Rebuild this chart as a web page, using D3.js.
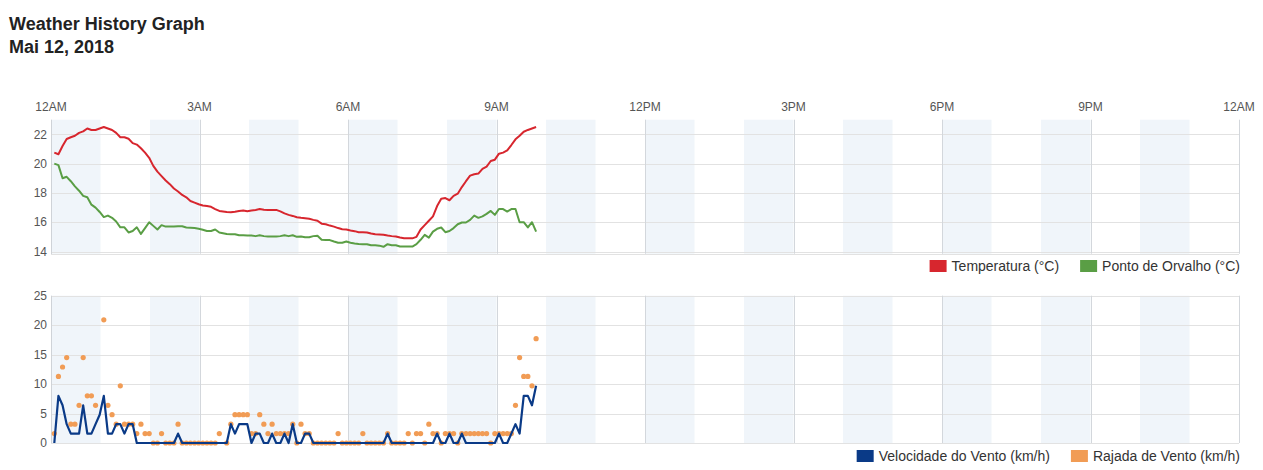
<!DOCTYPE html>
<html>
<head>
<meta charset="utf-8">
<script src="https://cdn.jsdelivr.net/npm/d3@7"></script>
<style>
  html, body { margin: 0; padding: 0; background: #fff; }
  svg { display: block; font-family: "Liberation Sans", Arial, sans-serif; }
</style>
</head>
<body>
<svg id="chart" width="1263" height="470"></svg>
<script>
// ---- data ----
const title = "Weather History Graph";
const subtitle = "Mai 12, 2018";
const hourLabels = ["12AM","3AM","6AM","9AM","12PM","3PM","6PM","9PM","12AM"];
const tempTicks = [14, 16, 18, 20, 22];
const windTicks = [0, 5, 10, 15, 20, 25];
const seriesNames = ["Temperatura (°C)", "Ponto de Orvalho (°C)", "Velocidade do Vento (km/h)", "Rajada de Vento (km/h)"];

// observation times, minutes after midnight
const times = [4,9,14,19,24,29,34,39,44,49,54,59,64,69,74,79,84,89,94,99,104,109,114,119,124,129,134,139,144,149,154,159,164,169,174,179,184,189,194,199,204,
 213,218,223,228,233,238,243,248,253,258,263,268,273,278,283,288,293,298,303,308,313,318,323,328,333,338,343,348,353,358,363,368,373,378,383,388,393,398,403,408,413,418,423,428,433,438,443,448,453,458,463,468,473,478,483,488,493,498,503,508,513,518,523,528,533,538,543,548,553,558,563,568,573,578,583,588];

const temperature = [20.75,20.64,21.2,21.68,21.8,21.9,22.1,22.2,22.4,22.3,22.3,22.4,22.5,22.4,22.3,22.1,21.8,21.8,21.7,21.4,21.3,21.05,20.75,20.4,19.85,19.45,19.15,18.85,18.6,18.3,18.1,17.86,17.7,17.45,17.34,17.23,17.14,17.1,17.05,16.9,16.77,
 16.7,16.68,16.72,16.77,16.8,16.75,16.8,16.84,16.9,16.85,16.84,16.84,16.84,16.74,16.6,16.5,16.43,16.34,16.3,16.27,16.23,16.16,16.1,15.9,15.86,15.77,15.7,15.6,15.52,15.5,15.43,15.39,15.32,15.32,15.3,15.23,15.18,15.16,15.14,15.09,15.05,15.02,14.95,14.9,14.9,14.9,15.0,15.5,15.8,16.1,16.4,17.1,17.6,17.65,17.5,17.8,17.95,18.4,18.8,19.18,19.27,19.32,19.64,19.8,20.18,20.27,20.68,20.75,20.9,21.27,21.66,21.9,22.18,22.3,22.4,22.5];

const dewPoint = [20.0,19.9,19.0,19.1,18.8,18.45,18.15,17.8,17.7,17.2,17.0,16.7,16.35,16.45,16.3,16.05,15.65,15.65,15.3,15.4,15.65,15.2,15.6,16.0,15.75,15.5,15.8,15.7,15.7,15.7,15.72,15.72,15.64,15.62,15.6,15.55,15.48,15.4,15.4,15.5,15.3,
 15.2,15.18,15.18,15.11,15.11,15.1,15.09,15.05,15.11,15.05,15.02,15.02,15.02,15.05,15.11,15.05,15.11,15.0,15.03,14.98,14.97,15.05,15.07,14.8,14.78,14.78,14.68,14.6,14.6,14.68,14.6,14.55,14.52,14.5,14.5,14.43,14.43,14.4,14.32,14.5,14.43,14.43,14.34,14.34,14.34,14.34,14.5,14.8,15.14,14.95,15.36,15.55,15.64,15.32,15.4,15.6,15.86,15.98,15.98,16.16,16.45,16.3,16.4,16.57,16.77,16.5,16.9,16.9,16.73,16.9,16.9,16.0,16.0,15.64,16.0,15.36];

const windSpeed = [0,8.0,6.4,3.2,1.6,1.6,1.6,6.4,1.6,1.6,3.2,4.8,8.0,1.6,1.6,3.2,3.2,1.6,3.2,3.2,0,0,0,0,0,0,0,0,0,0,1.6,0,0,0,0,0,0,0,0,0,0,
 0,3.2,1.6,3.2,3.2,3.2,0,1.6,1.6,0,0,1.6,0,0,1.6,0,3.2,0,0,1.6,1.6,0,0,0,0,0,0,0,0,0,0,0,0,0,0,0,0,0,0,1.6,0,0,0,0,0,0,0,0,0,0,0,1.6,0,0,1.6,0,0,1.6,0,0,0,0,0,0,0,0,1.6,0,0,1.6,3.2,1.6,8.0,8.0,6.4,9.7];

const windGust = [1.6,11.3,12.9,14.5,3.2,3.2,6.4,14.5,8.0,8.0,6.4,null,20.9,6.4,4.8,3.2,9.7,3.2,3.2,3.2,1.6,3.2,1.6,1.6,0,0,1.6,0,0,0,3.2,0,0,0,0,0,0,0,0,0,1.6,
 0,3.2,4.8,4.8,4.8,4.8,1.6,1.6,4.8,3.2,1.6,3.2,1.6,1.6,1.6,1.6,3.2,0,3.2,1.6,1.6,0,0,0,0,0,0,1.6,0,0,0,0,0,1.6,0,0,0,0,0,1.6,0,0,0,0,1.6,0,1.6,1.6,0,3.2,1.6,1.6,0,1.6,1.6,1.6,0,1.6,1.6,1.6,1.6,1.6,1.6,1.6,0,1.6,1.6,1.6,1.6,1.6,6.4,14.5,11.3,11.3,9.7,17.7];

// ---- drawing ----
const colors = { temp: "#d7262e", dew: "#5a9e45", wind: "#0a3a87", gust: "#f19c55",
  band: "#f0f5fa", grid: "#e2e2e2", vgrid: "#d3d7dc", axis: "#cfd3d8", text: "#555" };

const svg = d3.select("#chart");
const x = d3.scaleLinear().domain([0, 1440]).range([51, 1239]);
const yT = d3.scaleLinear().domain([13.85, 23]).range([253.7, 119.7]);
const yW = d3.scaleLinear().domain([0, 25]).range([443, 295.7]);

svg.append("text").attr("x", 9).attr("y", 30).attr("font-size", 18).attr("font-weight", "bold")
  .attr("fill", "#222").text(title);
svg.append("text").attr("x", 9).attr("y", 53).attr("font-size", 18).attr("font-weight", "bold")
  .attr("fill", "#222").text(subtitle);

// top hour labels
svg.append("g").selectAll("text").data(hourLabels).join("text")
  .attr("x", (d, i) => x(i * 180)).attr("y", 110.5).attr("text-anchor", "middle")
  .attr("font-size", 12).attr("fill", colors.text).text(d => d);

function panel(y, ticks) {
  const [y0, y1] = y.range(); // bottom, top
  const g = svg.append("g");
  const hours = d3.range(0, 24, 2);
  g.selectAll("rect.band").data(hours).join("rect")
    .attr("x", h => x(h * 60)).attr("width", h => x((h + 1) * 60) - x(h * 60))
    .attr("y", y1).attr("height", y0 - y1).attr("fill", colors.band);
  g.selectAll("line.h").data(ticks).join("line")
    .attr("x1", x(0)).attr("x2", x(1440))
    .attr("y1", d => Math.round(y(d)) + 0.5).attr("y2", d => Math.round(y(d)) + 0.5)
    .attr("stroke", colors.grid).attr("stroke-width", 1);
  g.selectAll("line.v").data(d3.range(180, 1441, 180)).join("line")
    .attr("x1", d => Math.round(x(d)) + 0.5).attr("x2", d => Math.round(x(d)) + 0.5)
    .attr("y1", y1).attr("y2", y0).attr("stroke", colors.vgrid).attr("stroke-width", 1);
  g.append("line").attr("x1", Math.round(x(0)) + 0.5).attr("x2", Math.round(x(0)) + 0.5)
    .attr("y1", y1).attr("y2", y0 + 1).attr("stroke", colors.axis);
  g.append("line").attr("x1", x(0)).attr("x2", x(1440))
    .attr("y1", Math.round(y0) + 0.5).attr("y2", Math.round(y0) + 0.5).attr("stroke", colors.grid);
  g.selectAll("text").data(ticks).join("text")
    .attr("x", 47).attr("y", d => y(d)).attr("dy", "0.35em").attr("text-anchor", "end")
    .attr("font-size", 12).attr("fill", colors.text).text(d => d);
  return g;
}

panel(yT, tempTicks);
panel(yW, windTicks);

const idx = d3.range(times.length);
const lineT = d3.line().x(i => x(times[i])).y(i => yT(temperature[i]));
const lineD = d3.line().x(i => x(times[i])).y(i => yT(dewPoint[i]));
const lineW = d3.line().x(i => x(times[i])).y(i => yW(windSpeed[i]));

svg.append("path").datum(idx).attr("d", lineD).attr("fill", "none")
  .attr("stroke", colors.dew).attr("stroke-width", 2).attr("stroke-linejoin", "round");
svg.append("path").datum(idx).attr("d", lineT).attr("fill", "none")
  .attr("stroke", colors.temp).attr("stroke-width", 2).attr("stroke-linejoin", "round");

svg.append("g").selectAll("circle").data(idx.filter(i => windGust[i] !== null)).join("circle")
  .attr("cx", i => x(times[i])).attr("cy", i => yW(windGust[i])).attr("r", 2.6)
  .attr("fill", colors.gust);
svg.append("path").datum(idx).attr("d", lineW).attr("fill", "none")
  .attr("stroke", colors.wind).attr("stroke-width", 2.2).attr("stroke-linejoin", "round");

// legends (right aligned)
function legend(items, cy) {
  const g = svg.append("g");
  let right = 1240;
  for (let k = items.length - 1; k >= 0; k--) {
    const it = items[k];
    const t = g.append("text").attr("y", cy).attr("dy", "0.35em").attr("font-size", 14)
      .attr("fill", "#333").text(it.label);
    const w = t.node().getComputedTextLength();
    const tx = right - w;
    t.attr("x", tx);
    g.append("rect").attr("x", tx - 22).attr("y", cy - 6).attr("width", 17).attr("height", 12)
      .attr("fill", it.color);
    right = tx - 22 - 21;
  }
}
legend([{ label: seriesNames[0], color: colors.temp }, { label: seriesNames[1], color: colors.dew }], 266);
legend([{ label: seriesNames[2], color: colors.wind }, { label: seriesNames[3], color: colors.gust }], 456);
</script>
</body>
</html>
